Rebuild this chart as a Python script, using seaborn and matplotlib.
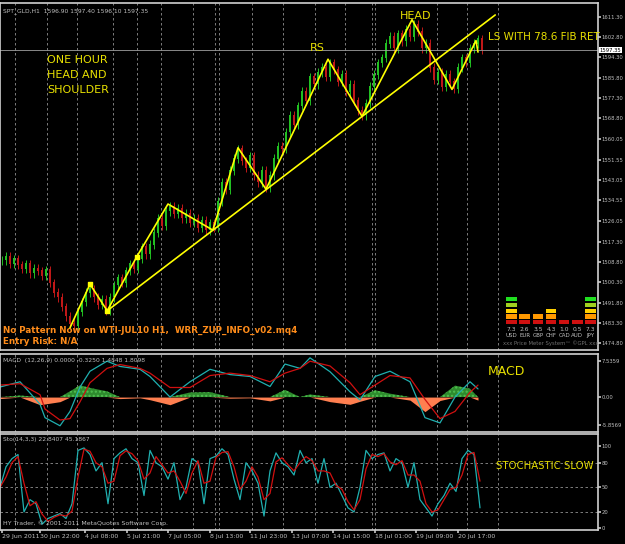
import numpy as np
import pandas as pd
import matplotlib
matplotlib.use("Agg")
import matplotlib.pyplot as plt
import seaborn as sns

sns.set_theme(style="dark")
plt.rcParams["font.family"] = ["DejaVu Sans"]

# hourly closes, one per bar
closes = [1509.5, 1511, 1508, 1510, 1507.5, 1506, 1508, 1504, 1506, 1505,
          1503, 1505.5, 1500, 1496, 1494, 1490, 1486, 1483, 1482, 1488,
          1492, 1496, 1497.5, 1494, 1491, 1493, 1488.5, 1494, 1499, 1502,
          1500, 1505, 1508, 1506, 1510, 1515, 1512, 1516, 1521, 1527,
          1524, 1530, 1532, 1529, 1531, 1527, 1529, 1525, 1527, 1523,
          1526, 1522, 1525, 1523, 1534, 1542, 1539, 1547, 1552, 1556,
          1551, 1548, 1553, 1545, 1542, 1547, 1540, 1545, 1552, 1557,
          1556, 1563, 1570, 1566, 1574, 1580, 1576, 1586, 1583, 1588,
          1590, 1586, 1592, 1589, 1584, 1587, 1580, 1583, 1576, 1572,
          1570, 1575, 1582, 1587, 1592, 1594, 1600, 1603, 1598, 1604,
          1601, 1606, 1603, 1608, 1605, 1598, 1600, 1590, 1585, 1588,
          1582, 1587, 1584, 1581, 1590, 1594, 1592, 1598, 1600, 1602,
          1597.35]

# zigzag pivots (bar, price)
zz_bar = [17.5, 22.5, 26.8, 34.2, 42, 53.2, 59.5, 66.5, 82, 90.5, 103, 113, 119, 119.5]
zz_price = [1481.3, 1499.5, 1488.4, 1511.0, 1533.0, 1522.1, 1556.5, 1539.2, 1593.5,
            1569.6, 1610.0, 1580.9, 1601.3, 1596.5]
neck_bar = [26.8, 123.8]
neck_price = [1488.4, 1612.0]
dot_bar = [22.5, 26.8, 34.2]
dot_price = [1499.5, 1488.4, 1511.0]

price_ticks = [1611.30, 1602.80, 1594.30, 1585.80, 1577.30, 1568.80, 1560.05, 1551.55,
               1543.05, 1534.55, 1526.05, 1517.30, 1508.80, 1500.30, 1491.80, 1483.30, 1474.80]

# MACD main / signal (pixel x of reading)
macd_x = [0, 20, 40, 45, 60, 70, 80, 90, 107, 120, 140, 150, 170, 190, 210, 230, 250, 270,
          285, 300, 310, 330, 350, 360, 375, 390, 410, 425, 440, 455, 470, 478]
macd_main = [2.1, 3.2, -1.5, -4.3, -6.0, -3.0, 2.1, 5.4, 7.5, 6.4, 5.8, 4.3, 0.0, 3.2,
             5.8, 4.7, 4.3, 2.2, 6.9, 6.0, 8.2, 5.3, 1.1, -0.6, 4.3,
             5.4, 3.2, -4.3, -5.4, 0.0, 3.2, 1.7]
macd_signal = [2.5, 2.8, 0.5, -2.5, -4.8, -4.5, -1.0, 3.0, 6.0, 6.8, 6.0, 5.0, 2.0, 2.0,
               4.5, 5.0, 4.5, 3.2, 5.0, 6.0, 7.5, 6.5, 3.0, 0.5, 2.5,
               4.5, 4.0, -0.5, -4.5, -3.0, 1.0, 2.5]

# stochastic %K every 6 px
stoch_k = [50, 75, 85, 90, 20, 35, 30, 5, 12, 15, 18, 12, 30, 95, 98, 90, 70, 80, 30, 85,
           92, 97, 85, 80, 40, 95, 80, 75, 60, 80, 35, 50, 85, 80, 30, 85, 88, 97, 90, 60,
           35, 80, 70, 55, 15, 70, 92, 80, 75, 65, 95, 80, 85, 55, 85, 50, 55, 40, 25, 20,
           50, 95, 85, 90, 92, 70, 85, 80, 50, 80, 35, 25, 15, 30, 40, 55, 45, 85, 95, 90, 25]

date_px = [2, 40, 85, 127, 168, 210, 250, 292, 333, 375, 416, 458]
date_labels = ["29 Jun 2011", "30 Jun 22:00", "4 Jul 08:00", "5 Jul 21:00", "7 Jul 05:00",
               "8 Jul 13:00", "11 Jul 23:00", "13 Jul 07:00", "14 Jul 15:00",
               "18 Jul 01:00", "19 Jul 09:00", "20 Jul 17:00"]
grid_px = [15, 47, 77, 113, 137, 161, 193, 215, 219, 252, 283, 315, 345, 372, 375, 437, 467, 498]

meter_cur = ["USD", "EUR", "GBP", "CHF", "CAD", "AUD", "JPY"]
meter_val = [7.3, 2.6, 3.5, 4.3, 1.0, 0.5, 7.3]
meter_blocks = [5, 2, 2, 3, 1, 1, 5]

PX = 4.0  # px per bar
FG = "#c0c0c0"
fig = plt.figure(figsize=(6.25, 5.44), dpi=100, facecolor="black")
WP = 598
W = WP / 625
ax = fig.add_axes([0, 1 - 350 / 544, W, 347 / 544])
axm = fig.add_axes([0, 1 - 432 / 544, W, 78 / 544])
axs = fig.add_axes([0, 1 - 530 / 544, W, 96 / 544])
xmax = WP / PX

for a in (ax, axm, axs):
    a.set_facecolor("black")
    a.set_xlim(0, xmax)
    for s in a.spines.values():
        s.set_color("#d0d0d0")
        s.set_linewidth(1.2)
    a.yaxis.tick_right()
    a.tick_params(axis="y", colors=FG, labelsize=3.8, length=2, pad=0.5, direction="out")
    a.tick_params(axis="x", bottom=False, labelbottom=False)
    for g in grid_px:
        a.axvline(g / PX, color="#909090", lw=0.6, ls=(0, (3, 3)), zorder=0)
    a.grid(False)

# candles
df = pd.DataFrame({"close": closes})
df["open"] = df["close"].shift(1).fillna(df["close"])
df["bar"] = np.arange(len(df)) + 0.5
df["hi"] = df[["open", "close"]].max(axis=1) + 1.8
df["lo"] = df[["open", "close"]].min(axis=1) - 1.8
up = df["close"] >= df["open"]
cols = np.where(up, "#22c022", "#c01818")
ax.vlines(df["bar"], df["lo"], df["hi"], colors=cols, lw=0.7, zorder=2)
ax.bar(df["bar"], (df["close"] - df["open"]).abs() + 0.3, bottom=df[["open", "close"]].min(axis=1),
       width=0.6, color=cols, edgecolor="none", linewidth=0, zorder=2)
ax.set_ylim(1472, 1617)
ax.set_yticks(price_ticks)
ax.set_yticklabels([f"{p:.2f}" for p in price_ticks])
ax.axhline(closes[-1], color="#a0a0a0", lw=0.6)
ax.text(1.003, (closes[-1] - 1472) / 145, f"{closes[-1]:.2f}", transform=ax.transAxes,
        fontsize=3.8, color="black", va="center",
        bbox=dict(facecolor="white", edgecolor="none", pad=0.4))

sns.lineplot(x=zz_bar, y=zz_price, ax=ax, color="yellow", lw=1.2, sort=False, zorder=6)
sns.lineplot(x=neck_bar, y=neck_price, ax=ax, color="yellow", lw=1.2, sort=False, zorder=6)
ax.scatter(dot_bar, dot_price, color="yellow", s=6, marker="s", zorder=7)

Y = "#e8e000"
ax.text(0.005, 0.985, "SPT_GLD,H1  1596.90 1597.40 1596.10 1597.35", transform=ax.transAxes,
        fontsize=4.3, color=FG, va="top")
ax.text(47 / WP, 0.85, "ONE HOUR\nHEAD AND\nSHOULDER", transform=ax.transAxes, fontsize=8,
        color=Y, va="top", linespacing=1.6)
ax.text(310 / PX, 1596, "RS", fontsize=8, color=Y, va="bottom")
ax.text(400 / PX, 1609.5, "HEAD", fontsize=8, color=Y, va="bottom")
ax.text(488 / PX, 1603, "LS WITH 78.6 FIB RET", fontsize=7.5, color=Y, va="center")
ax.text(0.005, 20 / 347, "No Pattern Now on WTI-JUL10 H1,  WRR_ZUP_INFO_v02.mq4",
        transform=ax.transAxes, fontsize=6.3, color="#ff8c1a", fontweight="bold", va="center")
ax.text(0.005, 9 / 347, "Entry Risk: N/A", transform=ax.transAxes, fontsize=6.3,
        color="#ff8c1a", fontweight="bold", va="center")

# price meter
axp = fig.add_axes([505 / 625, 1 - 325 / 544, 92 / 625, 30 / 544])
axp.set_facecolor("black")
axp.axis("off")
block_cols = ["#d01010", "#ff9900", "#ffd000", "#a0d020", "#20e020"]
for i, n in enumerate(meter_blocks):
    for j in range(n):
        axp.bar(i, 0.7, bottom=j, width=0.8, color=block_cols[j], edgecolor="none")
axp.set_xlim(-0.5, 6.5)
axp.set_ylim(-0.1, 5)
for i, (c, v) in enumerate(zip(meter_cur, meter_val)):
    fig.text((505 + 92 * (i + 0.5) / 7) / 625, 1 - 331 / 544, f"{v}", fontsize=4.3,
             color=FG, ha="center")
    fig.text((505 + 92 * (i + 0.5) / 7) / 625, 1 - 337 / 544, c, fontsize=4, color=FG, ha="center")
fig.text(551 / 625, 1 - 345 / 544, "xxx Price Meter System™ ©GPL xxx", fontsize=3.8,
         color="#707070", ha="center")

# MACD
mx = np.array(macd_x) / PX
mm = np.array(macd_main)
ms = np.array(macd_signal)
hist = mm - ms
pos = np.where(hist > 0, hist, 0) * 0.8
neg = np.where(hist < 0, hist, 0) * 0.8
axm.fill_between(mx, 0, pos, color="#2e8b2e", hatch="....", edgecolor="#50c050", lw=0)
axm.fill_between(mx, 0, neg, color="#ff7f50", lw=0)
sns.lineplot(x=mx, y=mm, ax=axm, color="#20b0b0", lw=0.9)
sns.lineplot(x=mx, y=ms, ax=axm, color="#d01010", lw=0.9)
axm.set_ylim(-7.3, 9.0)
axm.set_yticks([7.5359, 0.0, -5.8569])
axm.set_yticklabels(["7.5359", "0.00", "-5.8569"])
axm.text(0.005, 0.95, "MACD  (12,26,9) 0.0000 -0.3250 1.4848 1.8098", transform=axm.transAxes,
         fontsize=4.3, color=FG, va="top")
axm.text(488 / PX, 5.3, "MACD", fontsize=9, color=Y, va="center")

# Stochastic
sx = np.arange(len(stoch_k)) * 6 / PX
sk = pd.Series(stoch_k)
sd = sk.rolling(2, min_periods=1).mean()
sns.lineplot(x=sx, y=sk.values, ax=axs, color="#20b0b0", lw=0.9)
sns.lineplot(x=sx, y=sd.values, ax=axs, color="#d01010", lw=0.9)
axs.set_ylim(-2, 115)
for lv in (20, 50, 80):
    axs.axhline(lv, color="#909090", lw=0.6, ls=(0, (3, 3)), zorder=0)
axs.set_yticks([100, 80, 50, 20, 0])
axs.text(0.005, 0.97, "Sto(14,3,3) 22.8407 45.1867", transform=axs.transAxes, fontsize=4.3,
         color=FG, va="top")
axs.text(0.005, 0.04, "HY Trader, © 2001-2011 MetaQuotes Software Corp.", transform=axs.transAxes,
         fontsize=4.5, color=FG, va="bottom")
axs.text(496 / PX, 76, "STOCHASTIC SLOW", fontsize=7.3, color=Y, va="center")
axs.tick_params(axis="x", bottom=True, labelbottom=True, colors=FG, labelsize=4.5, length=2, pad=1)
axs.set_xticks(np.array(date_px) / PX)
axs.set_xticklabels(date_labels, ha="left")

fig.savefig("out.png", dpi=100, facecolor="black")
